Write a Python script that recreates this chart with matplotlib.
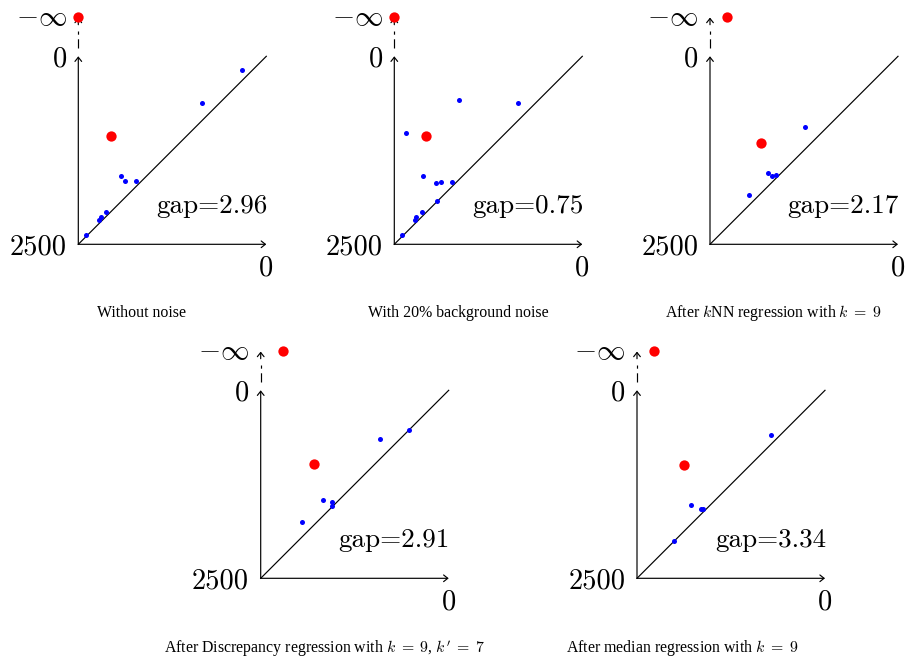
import matplotlib
matplotlib.use('Agg')
import matplotlib.pyplot as plt
from matplotlib.transforms import offset_copy

plt.rcParams['mathtext.fontset'] = 'cm'
plt.rcParams['axes.unicode_minus'] = False

AXIS_MAX = 2500

# ---- data (x = left->right value, y = bottom->top value; both axes run 2500 -> 0)
p1_blue_x = [327, 858, 1934, 1876, 1734, 2128, 2204, 2221, 2398]
p1_blue_y = [177, 619, 1588, 1664, 1664, 2075, 2142, 2177, 2372]
p1_red = (2071, 1057)
p1_inf_x = 2500

p2_blue_x = [1640, 859, 2346, 2121, 1940, 1874, 1733, 1935, 2130, 2209, 2222, 2399]
p2_blue_y = [582, 626, 1014, 1592, 1684, 1667, 1667, 1927, 2077, 2143, 2174, 2372]
p2_red = (2072, 1062)
p2_inf_x = 2500

p3_blue_x = [1243, 1726, 1677, 1619, 1982]
p3_blue_y = [934, 1557, 1593, 1575, 1841]
p3_red = (1823, 1150)
p3_inf_x = 2270

p4_blue_x = [919, 529, 1674, 1554, 1550, 1954]
p4_blue_y = [644, 524, 1461, 1479, 1532, 1754]
p4_red = (1790, 982)
p4_inf_x = 2203

p5_blue_x = [721, 1788, 1650, 1624, 2009]
p5_blue_y = [597, 1527, 1575, 1580, 2009]
p5_red = (1872, 987)
p5_inf_x = 2274

gaps = ["2.96", "0.75", "2.17", "2.91", "3.34"]
captions = [
    "Without noise",
    "With 20% background noise",
    r"After $k$NN regression with $k\;=\;9$",
    r"After Discrepancy regression with $k\;=\;9$, $k'\;=\;7$",
    r"After median regression with $k\;=\;9$",
]

panels = [
    (p1_blue_x, p1_blue_y, p1_red, p1_inf_x),
    (p2_blue_x, p2_blue_y, p2_red, p2_inf_x),
    (p3_blue_x, p3_blue_y, p3_red, p3_inf_x),
    (p4_blue_x, p4_blue_y, p4_red, p4_inf_x),
    (p5_blue_x, p5_blue_y, p5_red, p5_inf_x),
]

# ---- layout (pixels)
W, H = 910, 666
origins = [(78.3, 244.3), (394.3, 244.3), (710, 244.3), (260.7, 578.3), (637, 578.3)]
AX_LEN = 188
caption_pos = [(142, 313), (458, 313), (774, 313), (325, 648), (682, 648)]
NEG_INF_Y = -520

fig = plt.figure(figsize=(W / 100, H / 100), dpi=100)

NUM_FS = 20.5
GAP_FS = 19.5
CAP_FS = 11.4

def arrow(ax, x0, y0, x1, y1, color='black'):
    ax.annotate('', xy=(x1, y1), xytext=(x0, y0), xycoords='data',
                arrowprops=dict(arrowstyle='->,head_length=0.3,head_width=0.24',
                                lw=0.85, color=color, shrinkA=0, shrinkB=0,
                                mutation_scale=10),
                annotation_clip=False)

for i, (bx, by, red, inf_x) in enumerate(panels):
    ox, oy = origins[i]
    ax = fig.add_axes([ox / W, (H - oy) / H, AX_LEN / W, AX_LEN / H])
    ax.set_xlim(AXIS_MAX, 0)
    ax.set_ylim(AXIS_MAX, 0)
    ax.axis('off')

    # axes with arrows
    arrow(ax, AXIS_MAX, AXIS_MAX, 0, AXIS_MAX)
    arrow(ax, AXIS_MAX, AXIS_MAX, AXIS_MAX, 0)
    # diagonal
    ax.plot([AXIS_MAX, 0], [AXIS_MAX, 0], color='black', lw=0.85, clip_on=False)
    # dashed extension to -inf
    ax.plot([AXIS_MAX, AXIS_MAX], [-110, -335], color='black', lw=0.85,
            linestyle=(0, (7.8, 3.9)), clip_on=False)
    arrow(ax, AXIS_MAX, -420, AXIS_MAX, NEG_INF_Y + 5)

    # points
    ax.scatter(bx, by, s=13, color='#0000ff', zorder=5, clip_on=False, linewidths=0)
    ax.scatter([red[0]], [red[1]], s=55, color='#ff0000', zorder=6, clip_on=False, linewidths=0)
    ax.scatter([inf_x], [NEG_INF_Y], s=55, color='#ff0000', zorder=6, clip_on=False, linewidths=0)

    # labels
    t_left = offset_copy(ax.transData, fig=fig, x=-11.6, y=0, units='dots')
    ax.text(AXIS_MAX, 0, "0", transform=t_left, ha='right', va='center_baseline',
            fontsize=NUM_FS, family='cmr10')
    ax.text(AXIS_MAX, AXIS_MAX, "2500", transform=t_left, ha='right', va='center_baseline',
            fontsize=NUM_FS, family='cmr10')
    ax.text(AXIS_MAX, NEG_INF_Y, r"$-\infty$", transform=t_left, ha='right', va='center',
            fontsize=NUM_FS)
    t_down = offset_copy(ax.transData, fig=fig, x=0, y=-21, units='dots')
    ax.text(0, AXIS_MAX, "0", transform=t_down, ha='center', va='center_baseline',
            fontsize=NUM_FS, family='cmr10')
    t_gap = offset_copy(ax.transData, fig=fig, x=1, y=0, units='dots')
    ax.text(0, 2090, "gap=" + gaps[i], transform=t_gap, ha='right', va='baseline',
            fontsize=GAP_FS, family='cmr10')

    cx, cy = caption_pos[i]
    fig.text(cx / W, 1 - cy / H, captions[i], ha='center', va='center',
             fontsize=CAP_FS, family='Liberation Serif')

fig.savefig('out.png', dpi=100)
